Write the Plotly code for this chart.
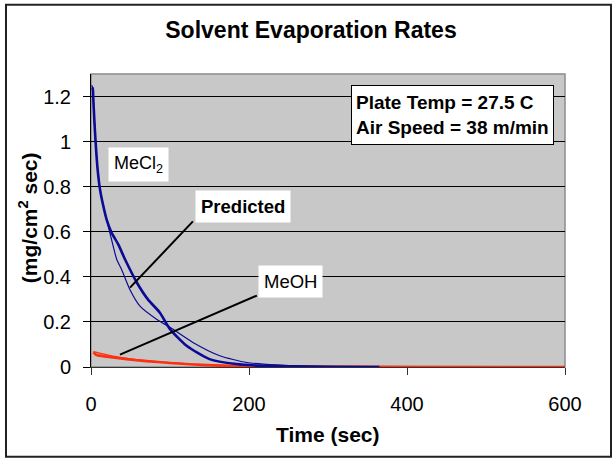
import plotly.graph_objects as go

# ---- data ----
mecl2_exp_t = [1, 2.1, 2.9, 4.2, 5.9, 8.4, 11.4, 15.6, 19.8, 26, 34.5, 43, 58, 72, 87, 100, 121, 150, 184, 213, 250, 300, 365]
mecl2_exp_y = [1.24, 1.237, 1.19, 1.097, 0.994, 0.876, 0.788, 0.714, 0.654, 0.596, 0.544, 0.478, 0.375, 0.30, 0.242, 0.168, 0.094, 0.035, 0.013, 0.006, 0.003, 0.001, 0.0]

mecl2_pred_t = [1, 2.1, 2.9, 4.2, 5.9, 8.4, 11.4, 15.6, 19.8, 28, 32.5, 39, 49, 62, 83, 100, 129, 163, 197, 235, 268, 330]
mecl2_pred_y = [1.25, 1.237, 1.19, 1.097, 0.994, 0.876, 0.788, 0.714, 0.654, 0.537, 0.478, 0.43, 0.345, 0.27, 0.212, 0.176, 0.109, 0.05, 0.02, 0.009, 0.004, 0.001]

meoh_exp_t = [3, 7, 20, 45, 70, 100, 130, 163, 200, 250, 600]
meoh_exp_y = [0.065, 0.053, 0.046, 0.035, 0.026, 0.018, 0.011, 0.006, 0.003, 0.001, 0.0]

meoh_pred_t = [3, 15, 28, 50, 100, 150, 200, 600]
meoh_pred_y = [0.068, 0.058, 0.048, 0.036, 0.019, 0.009, 0.004, 0.0]

x_ticks = [0, 200, 400, 600]
y_ticks = [0, 0.2, 0.4, 0.6, 0.8, 1.0, 1.2]
y_ticktext = ["0", "0.2", "0.4", "0.6", "0.8", "1", "1.2"]

FONT = "Arial, Liberation Sans, sans-serif"
BLUE = "#0A0A96"
RED = "#FF3010"

fig = go.Figure()
fig.add_trace(go.Scatter(x=meoh_pred_t, y=meoh_pred_y, mode="lines",
                         line=dict(color=RED, width=1.2, shape="spline", smoothing=0.6),
                         showlegend=False))
fig.add_trace(go.Scatter(x=meoh_exp_t, y=meoh_exp_y, mode="lines",
                         line=dict(color=RED, width=2.6, shape="spline", smoothing=0.6),
                         showlegend=False))
fig.add_trace(go.Scatter(x=mecl2_pred_t, y=mecl2_pred_y, mode="lines",
                         line=dict(color=BLUE, width=1.2, shape="spline", smoothing=0.6),
                         showlegend=False))
fig.add_trace(go.Scatter(x=mecl2_exp_t, y=mecl2_exp_y, mode="lines",
                         line=dict(color=BLUE, width=2.6, shape="spline", smoothing=0.6),
                         showlegend=False))

fig.update_layout(
    width=613, height=459,
    margin=dict(l=91, r=48, t=74, b=92),
    paper_bgcolor="white",
    plot_bgcolor="#C8C8C8",
    font=dict(family=FONT, color="black", size=20),
    title=dict(text="<b>Solvent Evaporation Rates</b>", x=311 / 613, xref="container",
               xanchor="center", y=1 - 29.5 / 459, yref="container", yanchor="middle",
               font=dict(size=23, family=FONT, color="black")),
    showlegend=False,
)

fig.update_xaxes(range=[0, 600], tickvals=x_ticks, showgrid=False, zeroline=False,
                 showline=True, linecolor="#333333", linewidth=1,
                 ticks="outside", ticklen=7, tickcolor="#333333",
                 tickfont=dict(size=20, family=FONT), ticklabelstandoff=12)
fig.update_yaxes(range=[0, 1.3], tickvals=y_ticks, ticktext=y_ticktext,
                 showgrid=True, gridcolor="black", gridwidth=1, zeroline=False,
                 showline=True, linecolor="black", linewidth=1,
                 ticks="outside", ticklen=7, tickcolor="black",
                 tickfont=dict(size=20, family=FONT), ticklabelstandoff=8)

# plot area border and outer chart border
fig.add_shape(type="rect", xref="paper", yref="paper", x0=0, x1=1, y0=0, y1=1,
              line=dict(color="#8C8C8C", width=1.5), layer="below")
fig.add_shape(type="rect", xref="paper", yref="paper",
              x0=(6 - 91) / 474, x1=(611 - 91) / 474,
              y0=(367.3 - 457) / 293, y1=(367.3 - 5) / 293,
              line=dict(color="#222222", width=2))

# leader lines
fig.add_shape(type="line", xref="x", yref="y", x0=129, y0=0.646, x1=49.4, y1=0.352,
              line=dict(color="black", width=2))
fig.add_shape(type="line", xref="x", yref="y", x0=210, y0=0.317, x1=36.7, y1=0.055,
              line=dict(color="black", width=2))

# axis titles
fig.add_annotation(text="<b>Time (sec)</b>", xref="paper", yref="paper",
                   x=0.5, y=(367.3 - 435) / 293, xanchor="center", yanchor="middle",
                   showarrow=False, font=dict(size=21, family=FONT))
fig.add_annotation(text="<b>(mg/cm<sup>2</sup> sec)</b>", xref="paper", yref="paper",
                   x=(28 - 91) / 474, y=(367.3 - 218.5) / 293, xanchor="center", yanchor="middle",
                   textangle=-90, showarrow=False, font=dict(size=21, family=FONT))

# labels
fig.add_annotation(text="MeCl<sub>2</sub>", x=59.5, y=0.899, xref="x", yref="y",
                   showarrow=False, bgcolor="white", borderpad=5,
                   font=dict(size=18, family=FONT))
fig.add_annotation(text="<b>Predicted</b>", x=192.4, y=0.712, xref="x", yref="y",
                   showarrow=False, bgcolor="white", borderpad=5,
                   font=dict(size=18.5, family=FONT))
fig.add_annotation(text="MeOH", x=251.9, y=0.381, xref="x", yref="y",
                   showarrow=False, bgcolor="white", borderpad=5,
                   font=dict(size=18.5, family=FONT))
fig.add_annotation(text="<b>Plate Temp = 27.5 C<br>Air Speed = 38 m/min</b>",
                   x=457.8, y=1.118, xref="x", yref="y", showarrow=False,
                   bgcolor="white", bordercolor="black", borderwidth=1, borderpad=4,
                   align="left", width=193, height=50,
                   font=dict(size=19, family=FONT))

fig.write_html("out.html")
